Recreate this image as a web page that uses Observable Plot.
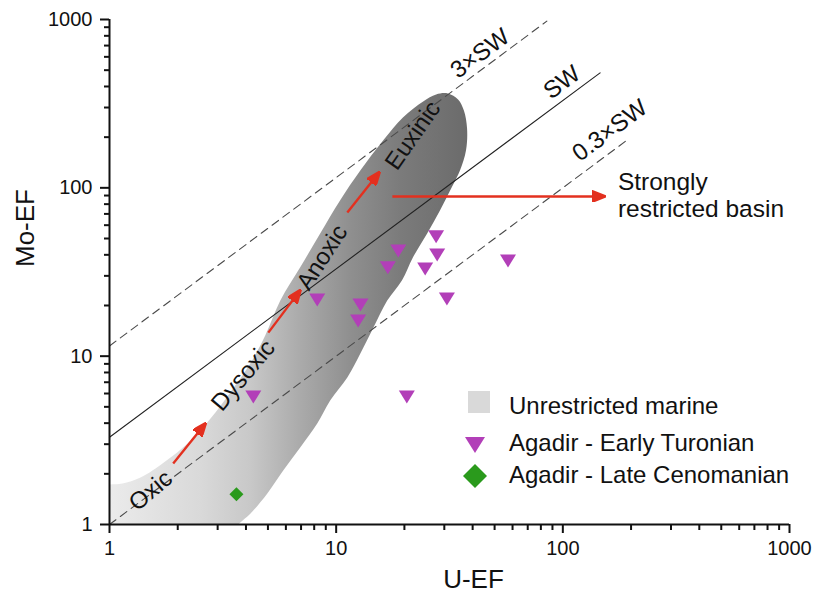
<!DOCTYPE html>
<html><head><meta charset="utf-8">
<script src="https://cdn.jsdelivr.net/npm/d3@7"></script>
<script src="https://cdn.jsdelivr.net/npm/@observablehq/plot@0.6"></script>
<style>
body{margin:0;background:#fff;}
#wrap{position:relative;width:816px;height:605px;font-family:"Liberation Sans",Arial,sans-serif;}
#legend{position:absolute;left:0;top:0;pointer-events:none;}
</style></head><body><div id="wrap"></div>
<script>
// ---- Data ----
// Agadir - Early Turonian (U-EF, Mo-EF)
const uTuronian  = [4.31, 8.25, 12.8, 12.5, 18.8, 16.9, 27.6, 27.9, 24.7, 30.8, 20.5, 57.3];
const moTuronian = [5.76, 21.7, 20.3, 16.3, 42.5, 33.7, 51.5, 40.2, 33.2, 22.0, 5.76, 37.0];
// Agadir - Late Cenomanian
const uCenomanian  = [3.63];
const moCenomanian = [1.51];

// Reference Mo/U lines: Mo-EF at U-EF = 1, and the U-EF where each line ends
const refNames  = ["0.3×SW", "SW", "3×SW"];
const refRatio  = [1.0, 3.3, 11.5];
const refEndU   = [197, 146, 85];
const refDashed = [true, false, true];

// Unrestricted marine field outline (U-EF, Mo-EF), traced round the shape
const bandU  = [0.745, 1, 1.14, 1.37, 1.76, 2.21, 2.79, 3.41, 4.18, 4.87, 5.67, 6.94, 8.50, 10.4, 12.8, 16.1, 19.7, 24.2, 27.6, 31.1,
                34.5, 36.6, 37.8, 37.4, 35.2, 32.4, 28.7, 25.2, 21.8, 19.5, 16.8, 14.6, 12.8, 11.2, 9.41, 8.25, 6.94, 5.84, 4.97, 4.18,
                3.70, 2.93, 0.745];
const bandMo = [1.73, 1.73, 1.75, 1.90, 2.37, 3.03, 4.26, 6.09, 9.05, 13.3, 21.4, 33.7, 53.6, 84.2, 127, 191, 262, 326, 359, 364,
                335, 288, 225, 167, 127, 101, 73.4, 53.6, 38.6, 28.2, 21.4, 14.8, 10.4, 7.47, 5.45, 3.98, 2.87, 2.09, 1.53, 1.16,
                1.00, 0.67, 0.67];

// Redox zone labels along the field
const zoneLabels = ["Oxic", "Dysoxic", "Anoxic", "Euxinic"];
const zoneU      = [1.52, 3.89, 8.67, 21.8];
const zoneMo     = [1.59, 7.68, 38.6, 205];
const zoneAngle  = [-40, -50, -57, -55];

// Line labels
const lineLabels  = ["3×SW", "SW", "0.3×SW"];
const lineLabelU  = [43.1, 99, 161];
const lineLabelMo = [629, 423, 219];
const lineAngle   = -36.5;

// Red arrows (start → end)
const arrowU1  = [1.91, 5.02, 11.2, 17.7];
const arrowMo1 = [2.30, 13.8, 71.4, 88.9];
const arrowU2  = [2.65, 6.94, 15.5, 153];
const arrowMo2 = [3.98, 24.6, 123.6, 88.9];

const basinText = "Strongly\nrestricted basin";
const basinU = 175, basinMo = 91;

// Axis ticks
const majorTicks = [1, 10, 100, 1000];
const minorTicks = [2,3,4,5,6,7,8,9,20,30,40,50,60,70,80,90,200,300,400,500,600,700,800,900];

const legendItems = ["Unrestricted marine", "Agadir - Early Turonian", "Agadir - Late Cenomanian"];

// ---- Build tables ----
const turonian = uTuronian.map((u, i) => ({U: u, Mo: moTuronian[i]}));
const cenomanian = uCenomanian.map((u, i) => ({U: u, Mo: moCenomanian[i]}));
const band = bandU.map((u, i) => ({U: u, Mo: bandMo[i]}));
const refRows = refNames.flatMap((n, i) => [
  {name: n, dashed: refDashed[i], U: 1, Mo: refRatio[i]},
  {name: n, dashed: refDashed[i], U: refEndU[i], Mo: refRatio[i] * refEndU[i]}
]);
const zones = zoneLabels.map((t, i) => ({t, U: zoneU[i], Mo: zoneMo[i], a: zoneAngle[i]}));
const lineLab = lineLabels.map((t, i) => ({t, U: lineLabelU[i], Mo: lineLabelMo[i]}));
const arrows = arrowU1.map((u, i) => ({u1: u, m1: arrowMo1[i], u2: arrowU2[i], m2: arrowMo2[i]}));

const RED = "#e3301f", MAG = "#b23fb8", GREEN = "#2a9a1c";

const downTriangle = {draw(ctx) { ctx.moveTo(-8, -6); ctx.lineTo(8, -6); ctx.lineTo(0, 7); ctx.closePath(); }};
const diamond = {draw(ctx) { ctx.moveTo(0, -7); ctx.lineTo(7, 0); ctx.lineTo(0, 7); ctx.lineTo(-7, 0); ctx.closePath(); }};

const arrowHead = (color) => {
  const m = d3.create("svg:marker")
    .attr("viewBox", "-13 -6 14 12")
    .attr("markerWidth", 14).attr("markerHeight", 12)
    .attr("markerUnits", "userSpaceOnUse")
    .attr("orient", "auto").attr("refX", 0).attr("refY", 0);
  m.append("path").attr("d", "M-13,-5.5L1,0L-13,5.5Z").attr("fill", color);
  return m.node();
};

const font = "Liberation Sans, Arial, sans-serif";

const svg = Plot.plot({
  width: 816, height: 605,
  marginLeft: 109, marginRight: 27, marginTop: 19, marginBottom: 81,
  style: {fontFamily: font, background: "#fff", color: "#111", overflow: "visible"},
  x: {type: "log", domain: [1, 1000]},
  y: {type: "log", domain: [1, 1000]},
  marks: [
    Plot.line(band, {x: "U", y: "Mo", curve: "catmull-rom-closed", fill: "url(#bandGrad)", stroke: "none", clip: true}),
    Plot.line(refRows.filter(d => d.dashed), {x: "U", y: "Mo", z: "name", stroke: "#4a4a4a", strokeWidth: 1.1, strokeDasharray: "8,5.5"}),
    Plot.line(refRows.filter(d => !d.dashed), {x: "U", y: "Mo", z: "name", stroke: "#222", strokeWidth: 1.1}),
    Plot.link(arrows, {x1: "u1", y1: "m1", x2: "u2", y2: "m2", stroke: RED, strokeWidth: 2.4, strokeLinecap: "butt", markerEnd: arrowHead}),
    Plot.dot(turonian, {x: "U", y: "Mo", symbol: downTriangle, fill: MAG, stroke: "none"}),
    Plot.dot(cenomanian, {x: "U", y: "Mo", symbol: diamond, fill: GREEN, stroke: "none"}),
    Plot.text(zones, {x: "U", y: "Mo", text: "t", rotate: "a", fontSize: 24, fill: "#111"}),
    Plot.text(lineLab, {x: "U", y: "Mo", text: "t", rotate: lineAngle, fontSize: 24, fill: "#111"}),
    Plot.text([basinText], {x: basinU, y: basinMo, text: d => d, textAnchor: "start", lineAnchor: "middle", lineHeight: 1.12, fontSize: 24.5, fill: "#111"}),
    Plot.ruleX([1], {stroke: "#111", strokeWidth: 2}),
    Plot.ruleY([1], {stroke: "#111", strokeWidth: 2}),
    Plot.axisX(majorTicks, {tickSize: 9, tickPadding: 7, fontSize: 20, strokeWidth: 2, tickFormat: d3.format("d"), label: null, color: "#111"}),
    Plot.axisX(minorTicks, {tickSize: 6, tickFormat: () => "", strokeWidth: 2, label: null, color: "#111"}),
    Plot.axisY(majorTicks, {tickSize: 9, tickPadding: 8, fontSize: 20, strokeWidth: 2, tickFormat: d3.format("d"), label: null, color: "#111"}),
    Plot.axisY(minorTicks, {tickSize: 5, tickFormat: () => "", strokeWidth: 2, label: null, color: "#111"}),
    Plot.text(["U-EF"], {frameAnchor: "bottom", dx: 24, dy: 63, fontSize: 26, fill: "#111"}),
    Plot.text(["Mo-EF"], {frameAnchor: "left", dx: -84, dy: -5, rotate: -90, fontSize: 26, fill: "#111"})
  ]
});

// gradient for the unrestricted-marine field (light on the left, dark on the right)
const xs = svg.scale("x");
const gradOffsets = [0, 0.254, 0.394, 0.534, 0.673, 0.813, 1];
const gradColors  = ["#ebebeb", "#d9d9d9", "#c8c8c8", "#aaaaaa", "#8f8f8f", "#7b7b7b", "#6b6b6b"];
const defs = d3.select(svg).insert("defs", ":first-child");
const grad = defs.append("linearGradient").attr("id", "bandGrad")
  .attr("gradientUnits", "userSpaceOnUse")
  .attr("x1", xs.apply(1)).attr("x2", xs.apply(38)).attr("y1", 0).attr("y2", 0);
gradOffsets.forEach((o, i) => grad.append("stop").attr("offset", o).attr("stop-color", gradColors[i]));

const wrap = document.getElementById("wrap");
wrap.append(svg);

// legend overlay
const lg = d3.create("svg").attr("id", "legend").attr("width", 816).attr("height", 605)
  .style("font-family", font);
lg.append("rect").attr("x", 468).attr("y", 391).attr("width", 22).attr("height", 22).attr("fill", "#d9d9d9");
lg.append("path").attr("d", "M465,437L485,437L475,453Z").attr("fill", MAG);
lg.append("path").attr("d", "M475,464L487,476L475,488L463,476Z").attr("fill", GREEN);
const baselines = [414, 451, 483];
legendItems.forEach((t, i) => lg.append("text").attr("x", 509).attr("y", baselines[i])
  .attr("font-size", 24).attr("fill", "#111").text(t));
wrap.append(lg.node());
</script></body></html>
